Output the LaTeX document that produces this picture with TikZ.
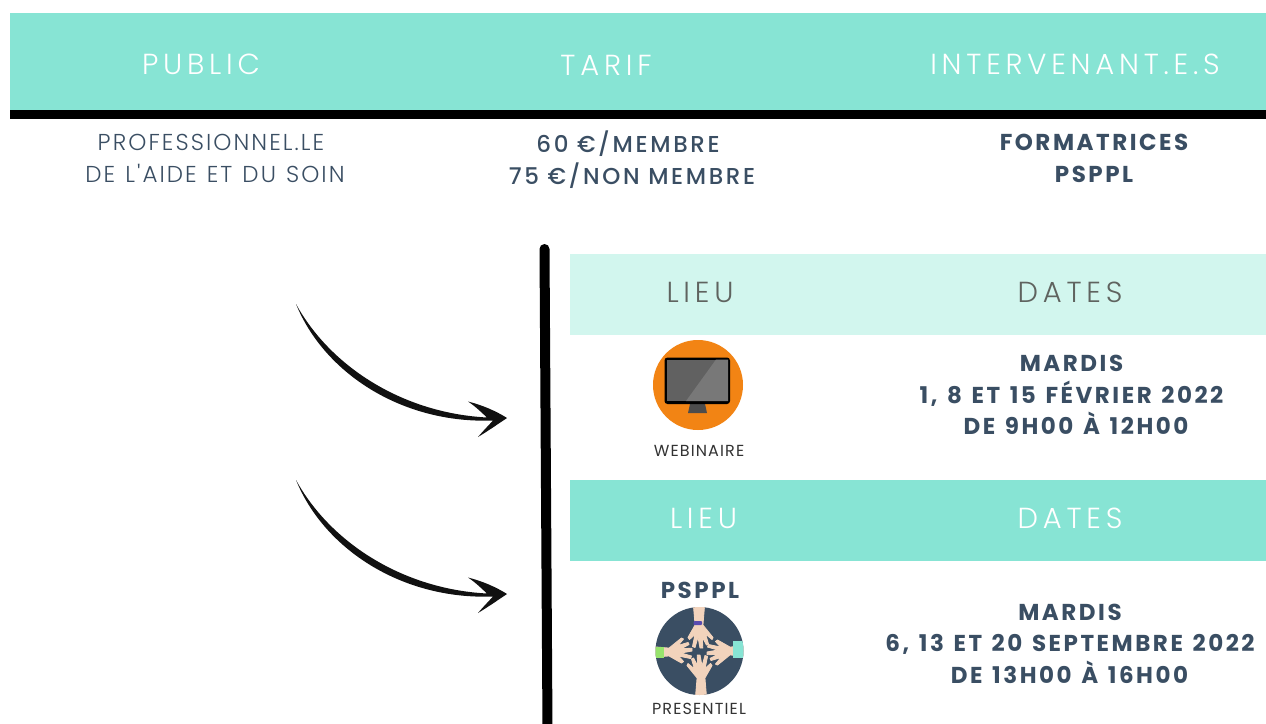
\documentclass[tikz,border=0pt]{standalone}
\usepackage{fontspec}
\setmainfont{Poppins}
\newfontfamily\hdf[LetterSpace=16.5]{Poppins Light}
\newfontfamily\bodyf[LetterSpace=9,WordSpace=1.2]{Poppins Light}
\newfontfamily\medf[LetterSpace=11.5]{Poppins Medium}
\newfontfamily\semif[LetterSpace=11,WordSpace=1.3]{Poppins Bold}
\newfontfamily\smallf[LetterSpace=7]{Poppins}
\definecolor{mint}{HTML}{87E4D4}
\definecolor{palemint}{HTML}{D2F6EE}
\definecolor{navy}{HTML}{3A4E63}
\definecolor{greyt}{HTML}{5F635F}
\definecolor{skin}{HTML}{F2D3BC}
\definecolor{iconorange}{HTML}{F28414}
\definecolor{cuffpurple}{HTML}{5A4BAF}
\definecolor{cuffgreen}{HTML}{97E36D}
\definecolor{arrowblack}{HTML}{111111}
\tikzset{
  lbl/.style={anchor=base,inner sep=0pt,outer sep=0pt},
  hd/.style={lbl,text=white,font=\fontsize{29}{29}\hdf},
  subt/.style={lbl,text=navy,font=\fontsize{23}{23}\bodyf},
  med/.style={lbl,text=navy,font=\fontsize{23}{23}\medf},
  strong/.style={lbl,text=navy,font=\fontsize{23}{23}\semif},
  captiontxt/.style={lbl,text=black!80,font=\fontsize{16}{16}\smallf},
  handfill/.style={fill=skin,draw=skin,line width=0.9pt,line join=round},
}
\newcommand{\handpath}{%
  (-6,-25) -- (-3.9,0) -- (-11,12.5) -- (-9.5,14.5) -- (-4,9.5) -- (-6.5,21.5) -- (-4,22.5) -- (-1,12)
  -- (1,23) -- (3.8,23) -- (3.2,12) -- (7.5,20) -- (9.5,19) -- (6.5,9) -- (13,14.5) -- (14,12.5)
  -- (5.5,2) -- (3.9,0) -- (6,-25) -- cycle}
\newcommand{\curvedarrow}[1]{%
  \begin{scope}[yshift=-#1pt]
  \fill[arrowblack]
    (296,304) .. controls (330,366) and (402,413) .. (487,417.5)
    .. controls (481,412) and (475,406) .. (468,401.5)
    .. controls (482,405) and (496,411) .. (507,418)
    .. controls (498,424) and (488,431) .. (478,437)
    .. controls (483,431) and (488,426) .. (493,420.5)
    .. controls (402,424) and (324,373) .. (296,304) -- cycle;
  \end{scope}}
\begin{document}
\begin{tikzpicture}[x=1pt,y=-1pt]
\useasboundingbox (0,0) rectangle (1266,723);
\fill[white] (0,0) rectangle (1266,723);
% header
\fill[mint] (10,13) rectangle (1266,110);
\fill[black] (10,110) rectangle (1266,119);
\node[hd] (public) at (201,74) {PUBLIC};
\node[hd] (tarif) at (606,75) {TARIF};
\node[hd] (interv) at (1075,74) {INTERVENANT.E.S};
\node[subt] (pro) at (211,150) {PROFESSIONNEL.LE};
\node[subt] (aide) at (215,182) {DE L'AIDE ET DU SOIN};
\node[med] (m60) at (628,152) {60 €/MEMBRE};
\node[med] (m75) at (632,184) {75 €/NON MEMBRE};
\node[strong] (form) at (1094,150) {FORMATRICES};
\node[strong] (psp) at (1094,182) {PSPPL};
% vertical bar
\draw[black,line width=10pt,line cap=round] (544.5,249) -- (547.5,730);
% arrows
\curvedarrow{0}
\curvedarrow{176}
% bands
\fill[palemint] (570,254) rectangle (1266,335);
\fill[mint] (570,480) rectangle (1266,561);
\node[hd,text=greyt] (lieua) at (700,302) {LIEU};
\node[hd,text=greyt] (datesa) at (1070,302) {DATES};
\node[hd] (lieub) at (703.5,528) {LIEU};
\node[hd] (datesb) at (1070,528) {DATES};
% webinaire icon
\fill[iconorange] (698,385) circle (45);
\fill[black!70] (690,404) -- (705,404) -- (707,413) -- (688,413) -- cycle;
\fill[black,rounded corners=3pt] (664.5,357.5) rectangle (730,404);
\fill[black!62] (666.5,359.5) rectangle (728,401);
\fill[black!53] (686,401) -- (716,359.5) -- (728,359.5) -- (728,401) -- cycle;
\node[captiontxt] (web) at (699,456) {WEBINAIRE};
\node[strong] (mard1) at (1071.5,371) {MARDIS};
\node[strong] (d1) at (1071.5,403) {1, 8 ET 15 FÉVRIER 2022};
\node[strong] (h1) at (1076,434) {DE 9H00 À 12H00};
% hands icon
\node[strong] (pspb) at (700,598) {PSPPL};
\fill[navy] (699.5,651) circle (44);
\begin{scope}
\clip (699.5,651) circle (44);
\begin{scope}[shift={(699,625)}]\path[handfill] \handpath;\end{scope}
\begin{scope}[shift={(701,678)},rotate=180]\path[handfill] \handpath;\end{scope}
\begin{scope}[shift={(669,652)},rotate=90]\path[handfill] \handpath;\end{scope}
\begin{scope}[shift={(730,651)},rotate=-90]\path[handfill] \handpath;\end{scope}
\fill[cuffpurple,rounded corners=1pt] (693.5,621) rectangle (702,625);
\fill[mint] (733,641) rectangle (745,658);
\fill[cuffgreen] (654,647) rectangle (663.5,658);
\end{scope}
\node[captiontxt] (pres) at (699,714) {PRESENTIEL};
\node[strong] (mard2) at (1070,620) {MARDIS};
\node[strong] (d2) at (1070,651) {6, 13 ET 20 SEPTEMBRE 2022};
\node[strong] (h2) at (1069.5,683) {DE 13H00 À 16H00};
\end{tikzpicture}
\end{document}
